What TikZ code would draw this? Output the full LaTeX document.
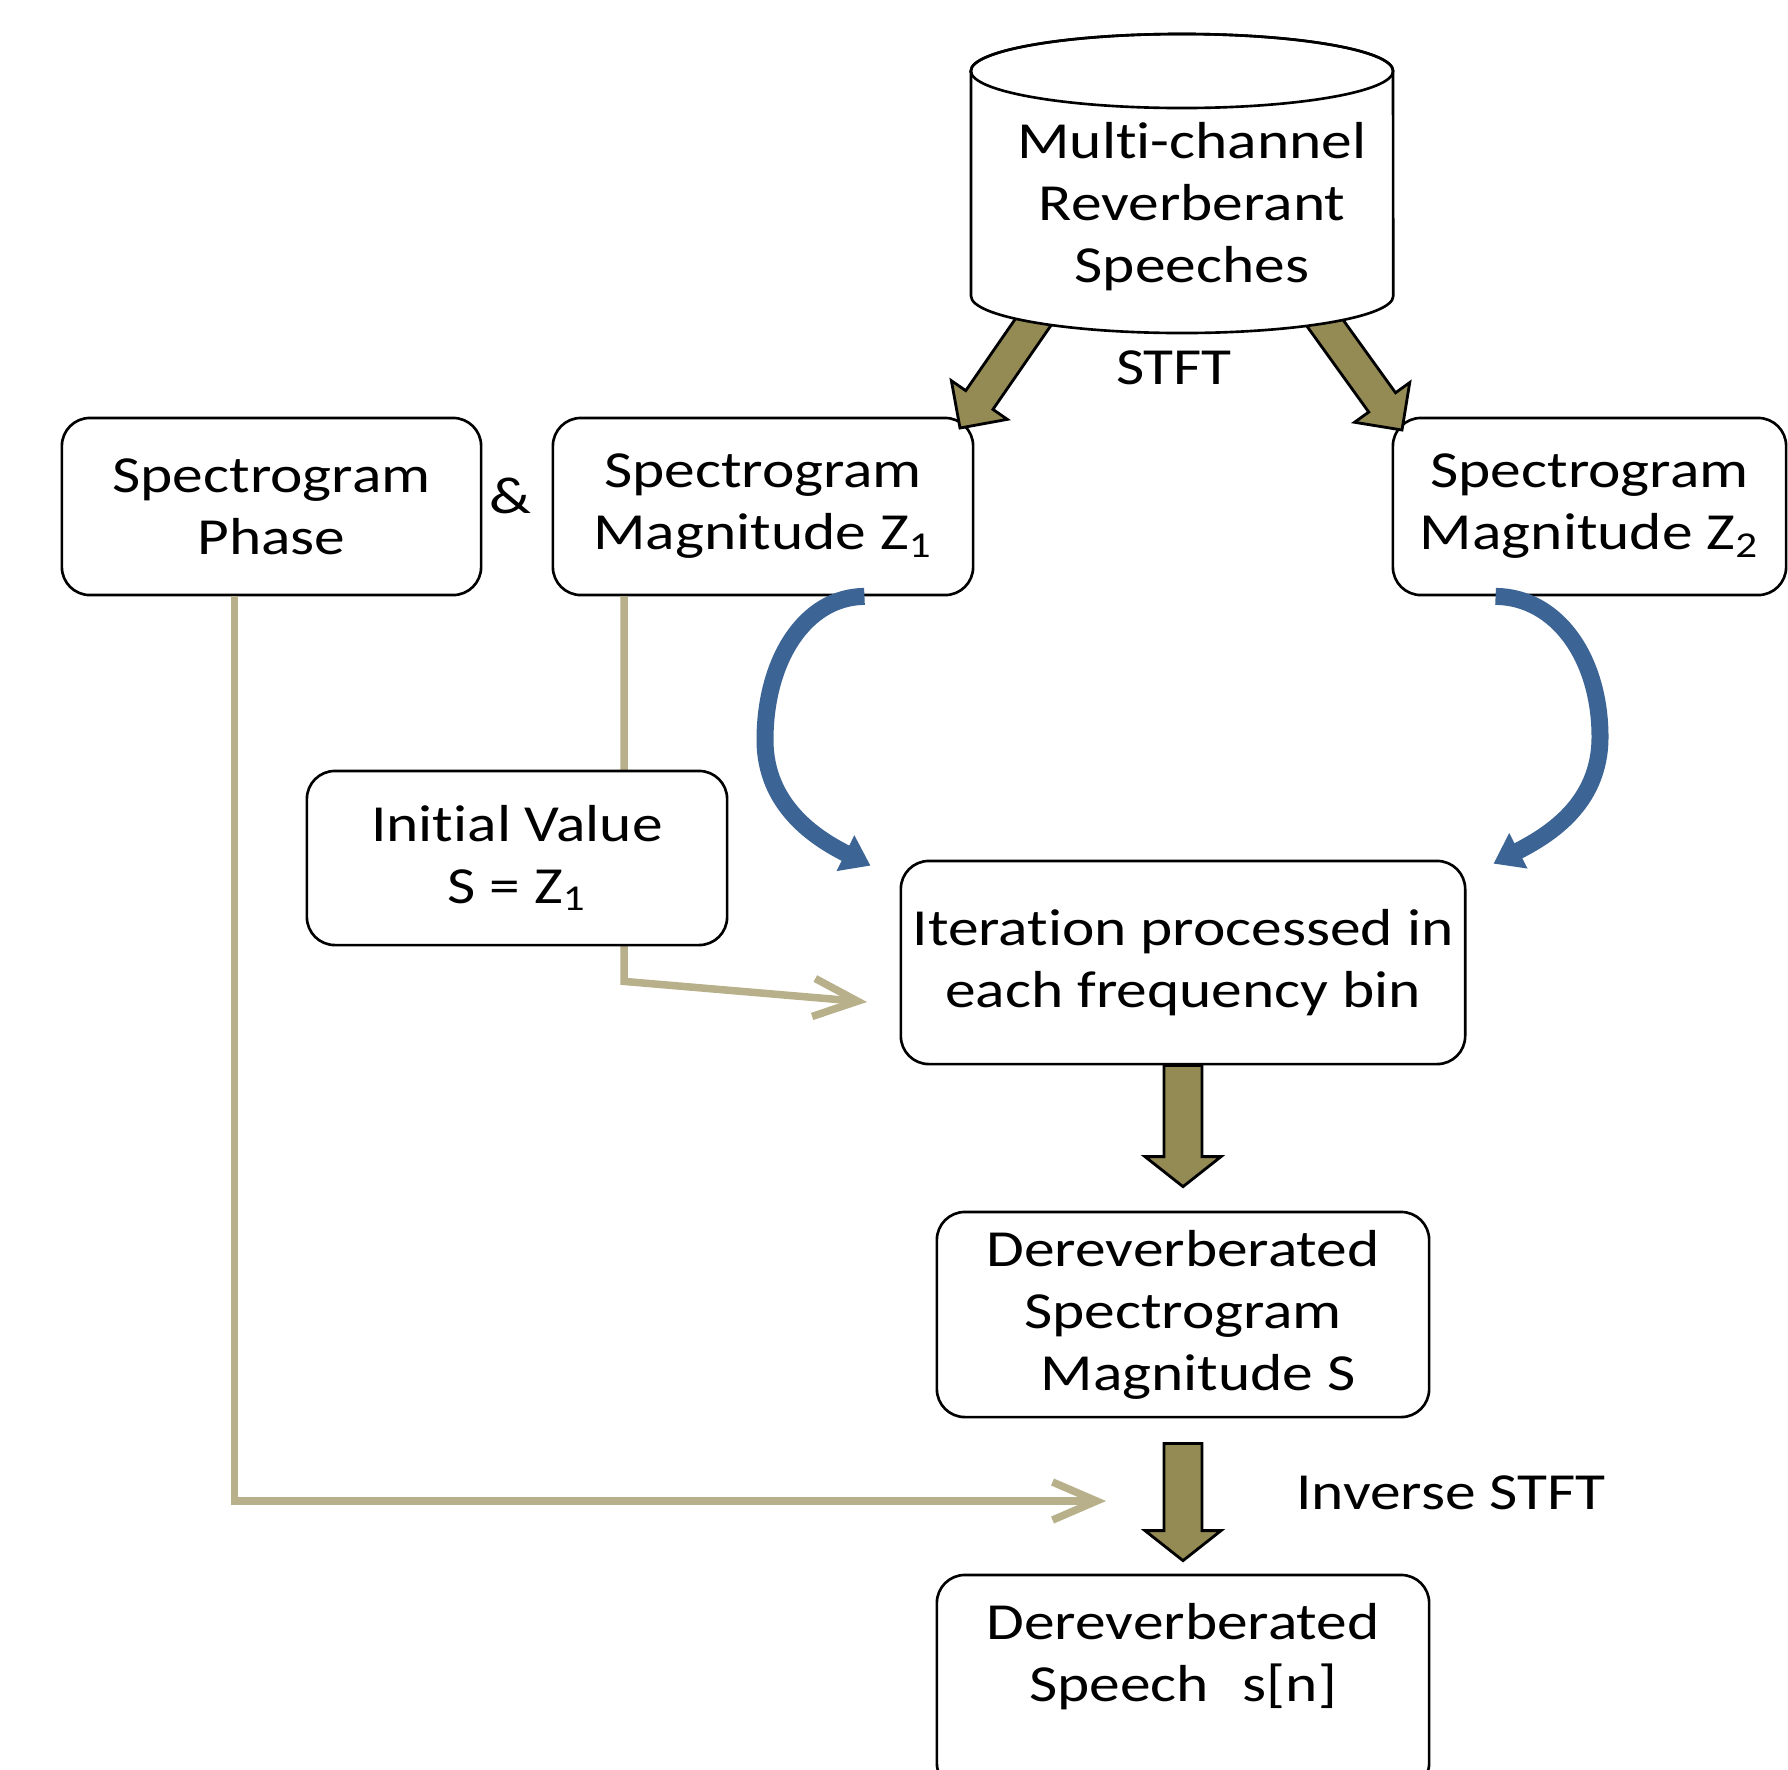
\documentclass[tikz,border=0pt]{standalone}
\usepackage{fontspec}
\setmainfont[FakeStretch=1.18, Ligatures=NoCommon]{Carlito}
\usetikzlibrary{arrows.meta, calc}
\definecolor{olivefill}{HTML}{948A54}
\definecolor{tancol}{HTML}{B8B08A}
\definecolor{loopblue}{HTML}{3C6596}
\newcommand{\boxfont}{\fontsize{14.8pt}{17.6pt}\selectfont}
\newcommand{\tI}{t\kern0pt i} % keeps t and i apart, no ligature
\tikzset{
    x=0.01cm, y=-0.01cm, % one unit is one pixel of the page, y grows downwards
    box/.style={draw, fill=white, rounded corners=0.28cm, line width=0.75pt, align=center, inner sep=0pt, font=\boxfont}, % the rounded process boxes
    tag/.style={font=\boxfont, inner sep=0pt}, % free labels
    blockarrow/.style={fill=olivefill, draw=black, line width=0.8pt, line join=miter}, % fat olive arrows
    feedline/.style={draw=tancol, line width=0.075cm}, % thin tan connectors
    feedarrow/.style={feedline, -{Straight Barb[length=0.44cm, width=0.38cm]}},
    iterloop/.style={draw=loopblue, line width=0.17cm, -{Triangle[length=0.28cm, width=0.38cm]}}, % curved blue arrows
}
% fat arrow: from, to, shaft half width, head half width, head length
\newcommand{\blockarrow}[5]{%
  \coordinate (ba-neck) at ($#2!#5!#1$);
  \draw[blockarrow] ($#1!#3!90:#2$) -- ($(ba-neck)!#3!-90:#1$) -- ($(ba-neck)!#4!-90:#1$) -- #2
    -- ($(ba-neck)!#4!90:#1$) -- ($(ba-neck)!#3!90:#1$) -- ($#1!#3!-90:#2$) -- cycle;
}

\begin{document}
\begin{tikzpicture}
\clip (0,0) rectangle (1788,1769);
\fill[white] (0,0) rectangle (1788,1769);

\node[box, minimum width=4.19cm, minimum height=1.77cm] (phase) at (271.5,506.5) {Spectrogram\\Phase};
\node[box, minimum width=4.20cm, minimum height=1.77cm] (mag1) at (763,506.5) {Spectrogram\\Magnitude Z\textsubscript{1}};
\node[box, minimum width=3.93cm, minimum height=1.77cm] (mag2) at (1589.5,506.5) {Spectrogram\\Magnitude Z\textsubscript{2}};
\node[tag] (amp) at (510,496) {\&};

\coordinate (phaseend) at (1106,1501);
\coordinate (initend) at ($(901,962)+(-34,40)$);
\draw[feedarrow] ($(phase.south)+(-37,0)$) |- (phaseend);
\draw[feedarrow] ($(mag1.south)+(-139,0)$) -- ($(mag1.south)+(-139,385)$) -- (initend);

\node[box, minimum width=4.20cm, minimum height=1.74cm] (init) at (517,858) {Ini\tI al Value\\S = Z\textsubscript{1}};
\node[box, minimum width=5.64cm, minimum height=2.03cm] (iter) at (1183,962.5) {Itera\tI on processed in\\each frequency bin};
\node[box, minimum width=4.92cm, minimum height=2.05cm] (dspec) at (1183,1314.5) {Dereverberated\\Spectrogram\\\hspace{0.3cm}Magnitude S};
\node[box, minimum width=4.92cm, minimum height=2.16cm] (speech) at (1183,1683) {Dereverberated\\Speech\hspace{0.34cm}s[n]\\~};

\coordinate (dbl) at (1045,305);
\coordinate (stftl) at (960,428);
\coordinate (dbr) at (1312,305);
\coordinate (stftr) at (1402,430);
\coordinate (dspecin) at ($(dspec.north)+(0,-24)$);
\coordinate (dspecout) at ($(dspec.south)+(0,25)$);
\coordinate (speechin) at ($(speech.north)+(0,-13)$);
\blockarrow{(dbl)}{(stftl)}{0.165cm}{0.34cm}{0.34cm}
\blockarrow{(dbr)}{(stftr)}{0.165cm}{0.34cm}{0.34cm}
\blockarrow{(iter.south)}{(dspecin)}{0.19cm}{0.38cm}{0.30cm}
\blockarrow{(dspecout)}{(speechin)}{0.19cm}{0.38cm}{0.30cm}

\filldraw[fill=white, line width=0.75pt] (971,71) -- (971,296)
  arc[start angle=180, end angle=360, x radius=2.11cm, y radius=0.37cm] -- (1393,71)
  arc[start angle=0, end angle=180, x radius=2.11cm, y radius=0.37cm] -- cycle;
\draw[line width=0.75pt] (1182,71) ellipse[x radius=2.11cm, y radius=0.37cm];
\node[tag, align=center] (db) at (1192,207) {Mul\tI-channel\\Reverberant\\Speeches};
\node[tag] (stft) at (1174,368) {STFT};
\node[tag] (istft) at (1451,1493) {Inverse STFT};

\coordinate (z1loop) at ($(mag1.south east)+(-110,0)$);
\coordinate (z2loop) at ($(mag2.south west)+(104,0)$);
\coordinate (iterl) at ($(iter.north west)+(-29,6)$);
\coordinate (iterr) at ($(iter.north east)+(27,4)$);
\draw[iterloop] (z1loop) .. controls (805,597) and (765,660) .. (765,740) .. controls (765,805) and (815,838) .. (iterl);
\draw[iterloop] (z2loop) .. controls (1557,597) and (1600,658) .. (1600,737) .. controls (1600,805) and (1547,836) .. (iterr);
\end{tikzpicture}
\end{document}
